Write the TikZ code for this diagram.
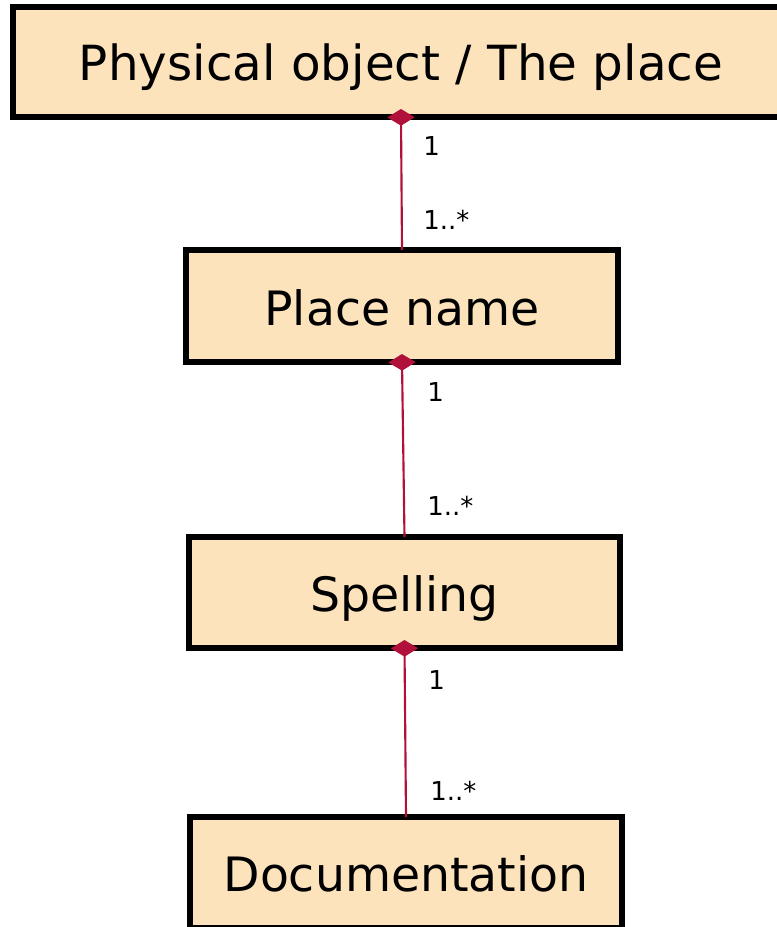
\documentclass[tikz,border=0pt]{standalone}
\usepackage{fontspec}
\setmainfont{DejaVu Sans}
\usetikzlibrary{arrows.meta}
\definecolor{boxfill}{RGB}{252,227,188}
\definecolor{linkred}{RGB}{176,16,58}
\begin{document}
\begin{tikzpicture}[x=0.75pt,y=-0.75pt,
  cls/.style={draw=black, fill=boxfill, line width=4.5pt, outer sep=0pt, inner sep=0pt,
    font=\fontsize{35.5}{40}\selectfont, text height=28.5pt, text depth=0pt, align=center},
  link/.style={draw=linkred, fill=linkred, line width=1.6pt,
    {Diamond[length=12.5pt,width=20.5pt]}-, shorten <=-6pt},
  mult/.style={font=\fontsize{19.5}{22}\selectfont, anchor=base west, inner sep=0pt}]
\useasboundingbox (0,0) rectangle (777,927);
\clip (0,0) rectangle (777,927);
\node[cls, minimum width=582pt, minimum height=82.5pt, font=\fontsize{36.3}{40}\selectfont] (obj) at (401,62) {Physical object / The place};
\node[cls, minimum width=324pt, minimum height=84pt] (pname) at (402,306) {Place name};
\node[cls, minimum width=323.25pt, minimum height=83.25pt] (spell) at (404.5,592.5) {Spelling};
\node[cls, minimum width=324pt, minimum height=83.25pt] (doc) at (406,872.5) {Documentation};
\draw[link] (obj.south) -- (pname.north);
\draw[link] (pname.south) -- (spell.north);
\draw[link] (spell.south) -- (doc.north);
\node[mult] (m1a) at (423,156) {1};
\node[mult] (m1b) at (423,229) {1..*};
\node[mult] (m2a) at (427,401) {1};
\node[mult] (m2b) at (427,515) {1..*};
\node[mult] (m3a) at (428,689) {1};
\node[mult] (m3b) at (430,800) {1..*};
\end{tikzpicture}
\end{document}
